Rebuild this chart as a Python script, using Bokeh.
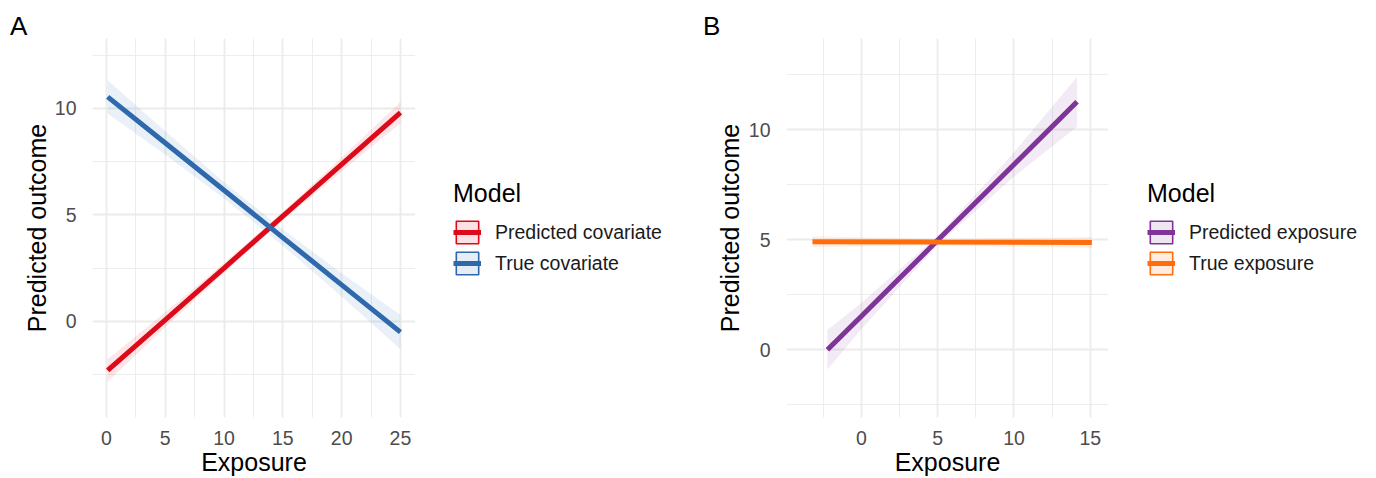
from bokeh.plotting import figure
from bokeh.layouts import row, column
from bokeh.models import FixedTicker, Legend, LegendItem, Range1d, Div
from bokeh.embed import file_html
from bokeh.resources import INLINE

FONT = "Liberation Sans"

# ---------------- data ----------------
# Panel A
a_x = [0.1, 5, 10, 15, 20, 25]
a_pred_fit = [-2.31, 0.07, 2.50, 4.94, 7.37, 9.80]
a_pred_lo = [-2.84, -0.28, 2.28, 4.74, 7.05, 9.30]
a_pred_hi = [-1.78, 0.42, 2.72, 5.14, 7.69, 10.30]
a_true_fit = [10.54, 8.37, 6.15, 3.93, 1.71, -0.51]
a_true_lo = [9.76, 7.82, 5.77, 3.55, 1.16, -1.31]
a_true_hi = [11.32, 8.92, 6.53, 4.31, 2.26, 0.29]
a_labels = ["Predicted covariate", "True covariate"]

# Panel B
b_pred_x = [-2.22, 0, 5, 10, 14.13]
b_pred_fit = [0.0, 1.53, 4.98, 8.43, 11.28]
b_pred_lo = [-0.90, 0.93, 4.78, 7.88, 10.15]
b_pred_hi = [0.90, 2.13, 5.18, 8.98, 12.41]
b_true_x = [-3.2, 5, 15.1]
b_true_fit = [4.92, 4.90, 4.88]
b_true_lo = [4.67, 4.76, 4.63]
b_true_hi = [5.17, 5.04, 5.13]
b_labels = ["Predicted exposure", "True exposure"]

a_xticks = [0, 5, 10, 15, 20, 25]
a_xminor = [2.5, 7.5, 12.5, 17.5, 22.5]
b_xticks = [0, 5, 10, 15]
b_xminor = [-2.5, 2.5, 7.5, 12.5]
yticks = [0, 5, 10]
yminor = [-2.5, 2.5, 7.5, 12.5]

RED, BLUE = "#DD0A1A", "#2E69AD"
PURPLE, ORANGE = "#7F3597", "#FF6D0C"
GRID = "#EBEBEB"

TAG_H = 38
FRAME_H = 381
BOTTOM = 59
TOTAL_H = TAG_H + FRAME_H + BOTTOM


def make_tag(tag, w, pad_left):
    return Div(text=tag, width=w, height=TAG_H, margin=0,
               styles={"font-family": FONT, "font-size": "26px",
                       "line-height": "26px", "color": "black",
                       "padding-left": f"{pad_left}px", "padding-top": "13px",
                       "box-sizing": "border-box"})


def make_panel(xr, yr, xt, xm, series, left, fw, label_standoff):
    p = figure(output_backend="svg", toolbar_location=None,
               width=left + fw, height=FRAME_H + BOTTOM,
               min_border_left=left, min_border_right=0,
               min_border_top=0, min_border_bottom=BOTTOM,
               x_range=Range1d(*xr), y_range=Range1d(*yr),
               x_axis_label="Exposure", y_axis_label="Predicted outcome")
    p.outline_line_color = None
    p.xaxis.ticker = FixedTicker(ticks=xt, minor_ticks=xm)
    p.yaxis.ticker = FixedTicker(ticks=yticks, minor_ticks=yminor)
    for ax in (p.xaxis, p.yaxis):
        ax.axis_line_color = None
        ax.major_tick_line_color = None
        ax.minor_tick_line_color = None
        ax.major_label_text_font = FONT
        ax.major_label_text_font_size = "19.5px"
        ax.major_label_text_color = "#4D4D4D"
        ax.axis_label_text_font = FONT
        ax.axis_label_text_font_size = "25px"
        ax.axis_label_text_font_style = "normal"
        ax.axis_label_text_color = "black"
        ax.major_tick_out = 0
        ax.major_tick_in = 0
    p.xaxis.major_label_standoff = 9
    p.xaxis.axis_label_standoff = 0
    p.yaxis.major_label_standoff = 12
    p.yaxis.axis_label_standoff = label_standoff
    for g in (p.xgrid, p.ygrid):
        g.grid_line_color = GRID
        g.grid_line_width = 1.8
        g.minor_grid_line_color = GRID
        g.minor_grid_line_width = 0.9
    for (x, lo, hi, fit, col) in series:
        p.varea(x=x, y1=lo, y2=hi, fill_color=col, fill_alpha=0.1)
    for (x, lo, hi, fit, col) in series:
        p.line(x=x, y=fit, line_color=col, line_width=5)
    return p


def make_legend(w, colors, labels, xoff):
    f = figure(output_backend="svg", toolbar_location=None, width=w,
               height=TOTAL_H,
               x_range=Range1d(0, 1), y_range=Range1d(0, 1),
               x_axis_type=None, y_axis_type=None, min_border=0)
    f.outline_line_color = None
    f.grid.visible = False
    items = []
    for col, lab in zip(colors, labels):
        # key markers kept outside the visible range; only their legend glyphs show
        dummy = f.quad(left=[-5], right=[-4], top=[-4], bottom=[-5],
                       fill_color=col, fill_alpha=0.12,
                       line_color=col, line_width=1.6)
        ln = f.line(x=[-5, -4], y=[-5, -5], line_color=col, line_width=5)
        items.append(LegendItem(label=lab, renderers=[dummy, ln]))
    leg = Legend(items=items, title="Model", location=(xoff, 201))
    leg.title_text_font = FONT
    leg.title_text_font_size = "25px"
    leg.title_text_font_style = "normal"
    leg.title_text_color = "black"
    leg.label_text_font = FONT
    leg.label_text_font_size = "19.5px"
    leg.label_text_color = "#1A1A1A"
    leg.glyph_width = 28
    leg.glyph_height = 28
    leg.spacing = 3
    leg.label_standoff = 14
    leg.padding = 0
    leg.margin = 0
    leg.title_standoff = 10
    leg.border_line_color = None
    leg.background_fill_alpha = 0
    f.add_layout(leg)
    return f


pa = make_panel((-1.19, 26.28), (-4.52, 13.28), a_xticks, a_xminor,
                [(a_x, a_pred_lo, a_pred_hi, a_pred_fit, RED),
                 (a_x, a_true_lo, a_true_hi, a_true_fit, BLUE)],
                92, 323, 1)
pb = make_panel((-4.9, 16.19), (-3.08, 14.16), b_xticks, b_xminor,
                [(b_pred_x, b_pred_lo, b_pred_hi, b_pred_fit, PURPLE),
                 (b_true_x, b_true_lo, b_true_hi, b_true_fit, ORANGE)],
                86, 322, 2)
ta = make_tag("A", 415, 10)
tb = make_tag("B", 408, 3)
la = make_legend(285, [RED, BLUE], a_labels, 38)
lb = make_legend(268, [PURPLE, ORANGE], b_labels, 39)

layout = row(column(ta, pa), la, column(tb, pb), lb)
open("out.html", "w").write(file_html(layout, INLINE))
